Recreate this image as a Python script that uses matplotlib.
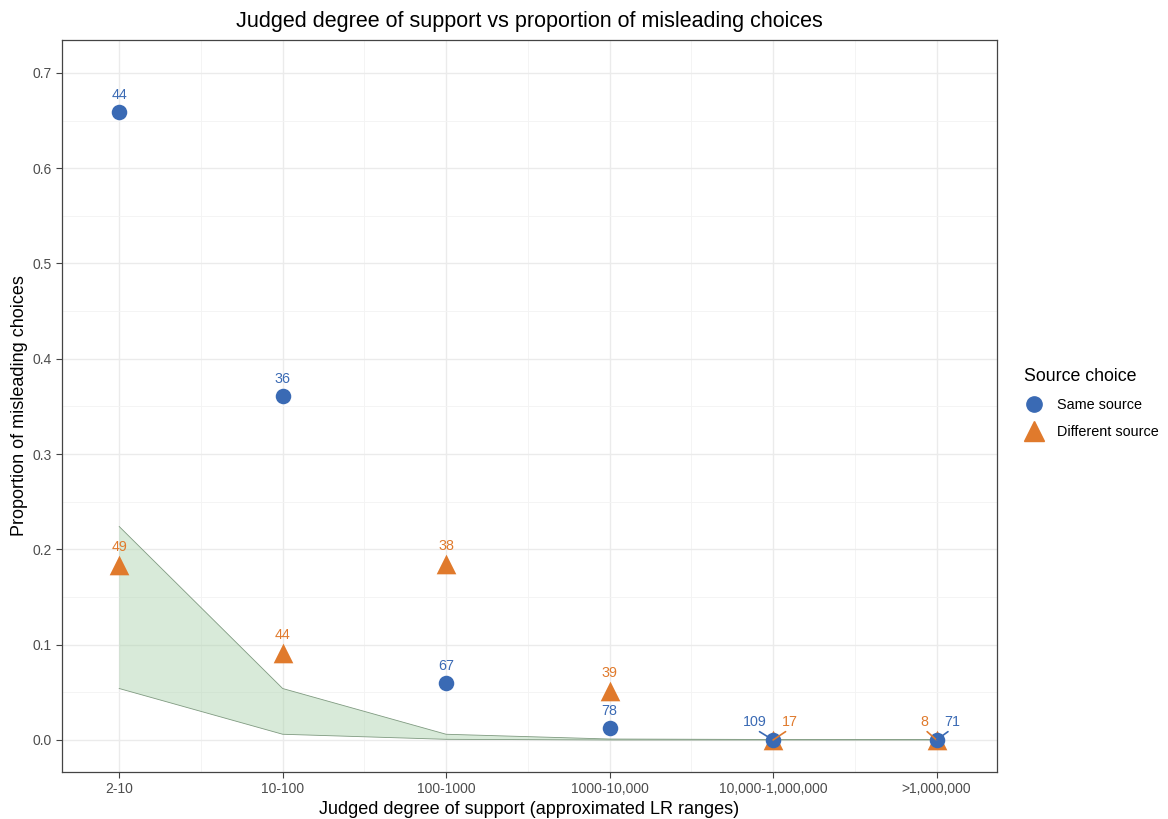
import matplotlib
matplotlib.use("Agg")
import matplotlib.pyplot as plt
import numpy as np
from matplotlib.lines import Line2D

plt.rcParams['font.family'] = ['Liberation Sans', 'DejaVu Sans']

categories = ["2-10", "10-100", "100-1000", "1000-10,000", "10,000-1,000,000", ">1,000,000"]
same_prop = [29/44, 13/36, 4/67, 1/78, 0.0, 0.0]
same_n = [44, 36, 67, 78, 109, 71]
diff_prop = [9/49, 4/44, 7/38, 2/39, 0.0, 0.0]
diff_n = [49, 44, 38, 39, 17, 8]
ribbon_upper = [0.224, 0.054, 0.006, 0.001, 0.0005, 0.0005]
ribbon_lower = [0.054, 0.006, 0.0007, 0.0, 0.0, 0.0]

blue = "#3A6AB4"
orange = "#E07A2C"

fig = plt.figure(figsize=(11.68, 8.19), dpi=100)
ax = fig.add_axes([62/1168, 1-772/819, (997-62)/1168, (772-40)/819])

x = np.arange(1, len(categories)+1)

ax.fill_between(x, ribbon_lower, ribbon_upper, facecolor="#a9d1ab", alpha=0.45,
                edgecolor="none", zorder=2)
ax.plot(x, ribbon_upper, color="#7f9a80", lw=0.6, zorder=2.1)
ax.plot(x, ribbon_lower, color="#7f9a80", lw=0.6, zorder=2.1)

ax.scatter(x, same_prop, s=125, marker='o', color=blue, zorder=4, linewidths=0)
ax.scatter(x, diff_prop, s=200, marker='^', color=orange, zorder=3, linewidths=0)

fs_ann = 10.3
for i in range(4):
    ax.annotate(str(same_n[i]), (x[i], same_prop[i]), xytext=(0, 7), textcoords='offset points',
                ha='center', va='bottom', color=blue, fontsize=fs_ann, zorder=5)
    ax.annotate(str(diff_n[i]), (x[i], diff_prop[i]), xytext=(0, 8), textcoords='offset points',
                ha='center', va='bottom', color=orange, fontsize=fs_ann, zorder=5)

rep = [(4, same_n[4], blue, (-13, 8)), (4, diff_n[4], orange, (12, 8)),
       (5, diff_n[5], orange, (-9, 8)), (5, same_n[5], blue, (11, 8))]
for i, n, c, off in rep:
    ax.annotate(str(n), (x[i], same_prop[i]), xytext=off, textcoords='offset points',
                ha='center', va='bottom', color=c, fontsize=fs_ann, zorder=5,
                arrowprops=dict(arrowstyle='-', color=c, lw=1.2, shrinkA=0, shrinkB=0,
                                relpos=(0.5, 0.0)))

ax.set_xlim(0.65, 6.37)
ax.set_ylim(-0.0336, 0.7345)
ax.set_xticks(x)
ax.set_xticklabels(categories)
ax.set_xticks(x[:-1] + 0.5, minor=True)
ax.set_yticks(np.arange(0, 0.71, 0.1))
ax.set_yticklabels([f"{v:.1f}" for v in np.arange(0, 0.71, 0.1)])
ax.set_yticks(np.arange(0.05, 0.71, 0.1), minor=True)

ax.grid(True, which='major', color='#EBEBEB', lw=1.0, zorder=0)
ax.grid(True, which='minor', color='#F3F3F3', lw=0.6, zorder=0)
ax.set_axisbelow(True)
for s in ax.spines.values():
    s.set_color('#444444')
    s.set_linewidth(0.9)
ax.tick_params(which='major', length=4, color='#444444', labelcolor='#4D4D4D', labelsize=10)
ax.tick_params(which='minor', length=0)

ax.set_xlabel("Judged degree of support (approximated LR ranges)", fontsize=13, labelpad=3)
ax.set_ylabel("Proportion of misleading choices", fontsize=13, labelpad=3)
ax.set_title("Judged degree of support vs proportion of misleading choices", fontsize=15.5, pad=9)

handles = [Line2D([], [], marker='o', color=blue, ls='', markersize=11),
           Line2D([], [], marker='^', color=orange, ls='', markersize=14)]
leg = fig.legend(handles, ["Same source", "Different source"], title="Source choice",
                 loc='upper left', bbox_to_anchor=(1014/1168, 1-358/819), frameon=False,
                 fontsize=10.4, title_fontsize=12.8, handletextpad=0.9, labelspacing=0.9,
                 borderpad=0.2, handlelength=1.4)
leg._legend_box.align = "left"

fig.savefig("out.png", dpi=100)
